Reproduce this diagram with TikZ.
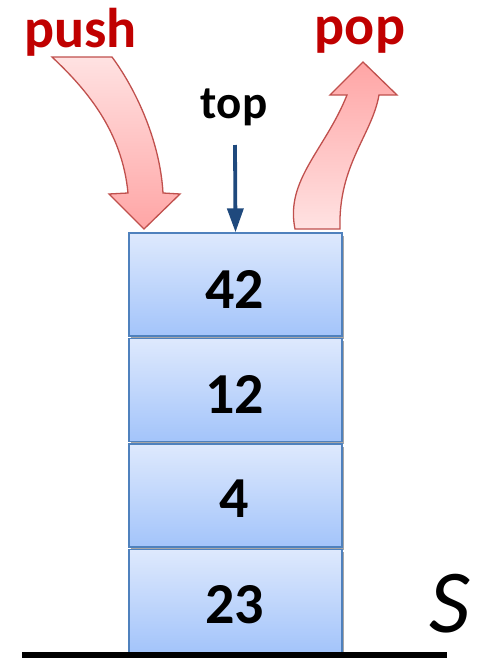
\documentclass[tikz,border=0pt]{standalone}
\usepackage{fontspec}
\setmainfont{Carlito}
\usetikzlibrary{arrows.meta,shadows}
\definecolor{popred}{RGB}{192,0,0}
\definecolor{arrowedge}{RGB}{192,80,77}
\definecolor{pinklight}{RGB}{255,226,226}
\definecolor{pinkdark}{RGB}{255,165,165}
\definecolor{boxedge}{RGB}{79,129,189}
\definecolor{boxtop}{RGB}{222,233,253}
\definecolor{boxbottom}{RGB}{163,196,250}
\definecolor{navy}{RGB}{31,73,125}
\tikzset{
  cell/.style={draw=boxedge, line width=1.4pt, top color=boxtop, bottom color=boxbottom,
    minimum width=213pt, minimum height=103pt, inner sep=0pt,
    drop shadow={shadow xshift=1.5pt, shadow yshift=-2.5pt, fill=black, opacity=0.35}},
  numtext/.style={anchor=base, inner sep=0pt, font=\fontsize{58}{60}\selectfont\bfseries},
  optext/.style={anchor=base, inner sep=0pt, text=popred, font=\fontsize{56}{60}\selectfont\bfseries},
  toptext/.style={anchor=base, inner sep=0pt, font=\fontsize{47}{50}\selectfont\bfseries},
  blockarrow/.style={draw=arrowedge, line width=1.3pt, line join=miter},
}
\begin{document}
\begin{tikzpicture}[x=1pt,y=-1pt]
\useasboundingbox (0,0) rectangle (481,659);
% stack cells
\node[cell] (b1) at (235.5,284.5) {};
\node[cell] (b2) at (235.5,390) {};
\node[cell] (b3) at (235.5,495.5) {};
\node[cell] (b4) at (235.5,601) {};
\node[numtext] (n1) at (234.5,308) {42};
\node[numtext] (n2) at (234.5,413) {12};
\node[numtext] (n3) at (234.5,517) {4};
\node[numtext] (n4) at (234.5,623) {23};
% ground
\coordinate (gl) at (22,655);
\coordinate (gr) at (447,655);
\draw[line width=6pt] (gl) -- (gr);
\node[anchor=base, inner sep=0pt, font=\fontsize{90}{94}\selectfont\itshape] (S) at (450,632) {S};
% labels
\node[optext] (push) at (80.5,47) {push};
\node[optext] (pop) at (360,44) {pop};
\node[toptext] (top) at (234,118) {top};
% top pointer
\coordinate (tp) at (235,145);
\draw[navy, line width=3.8pt, -{Triangle[length=24pt,width=16pt]}] (tp) -- (b1.north);
% push arrow
\path[blockarrow, top color=pinklight, bottom color=pinkdark]
  (52,57) -- (112,57) .. controls (135,88) and (160,140) .. (163,193)
  -- (180,194) -- (144,229) -- (109,194) -- (128,193)
  .. controls (122,130) and (85,88) .. (52,57) -- cycle;
% pop arrow
\path[blockarrow, top color=pinkdark, bottom color=pinklight]
  (363,62) -- (397,95) -- (379,95) .. controls (372,135) and (338,165) .. (340,229)
  -- (295,229) .. controls (285,180) and (325,150) .. (347,95)
  -- (330,95) -- cycle;
\end{tikzpicture}
\end{document}
